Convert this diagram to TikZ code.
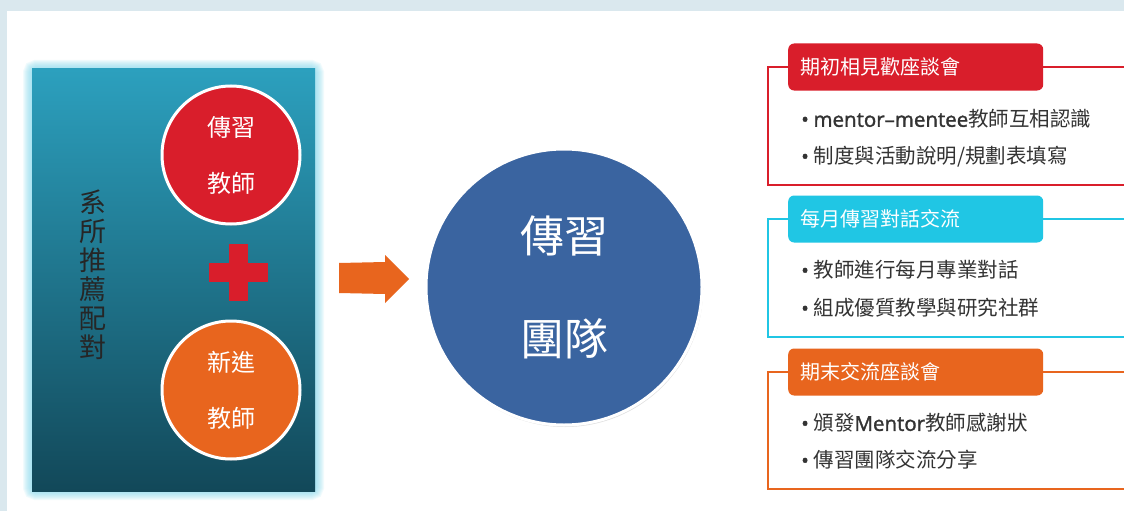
\documentclass[tikz,border=0pt]{standalone}
\usepackage{fontspec}
\setmainfont{Noto Sans CJK TC}
\newfontfamily\latin{Open Sans}[FakeBold=1.5]
\usetikzlibrary{shadows}
\definecolor{rimgray}{HTML}{DAE8EE}
\definecolor{paneltop}{HTML}{2CA0BE}
\definecolor{panelbottom}{HTML}{124859}
\definecolor{glow}{HTML}{7FD8EE}
\definecolor{mred}{HTML}{D91E2B}
\definecolor{morange}{HTML}{E8651E}
\definecolor{mblue}{HTML}{3A64A0}
\definecolor{mcyan}{HTML}{20C6E4}
\begin{document}
\begin{tikzpicture}[x=1pt,y=-1pt,
  disc/.style={circle,draw=white,line width=3pt,minimum size=138pt,inner sep=0pt,text=white,align=center,
    font=\fontsize{24}{56}\selectfont,drop shadow={opacity=.25,shadow xshift=1pt,shadow yshift=-2pt}},
  title/.style={rounded corners=6pt,minimum width=255pt,minimum height=47pt,inner xsep=12pt,
    text width=231pt,align=left,anchor=west,text=white,font=\fontsize{20}{24}\selectfont},
  item/.style={anchor=west,inner sep=0pt,text=black!80,font=\fontsize{20.5}{24}\selectfont}]
\useasboundingbox (0,0) rectangle (1124,511);
\fill[rimgray] (0,0) rectangle (1124,511);
\fill[white] (7,11) rectangle (1124,511);
% glow round the panel
\foreach \w in {18,16,...,2}
  \draw[glow,opacity=.1,line width=\w pt,rounded corners=4pt] (32,69) rectangle (315,491);
\node[minimum width=283pt,minimum height=422pt,inner sep=0pt,top color=paneltop,bottom color=panelbottom] (pair) at (173.5,280) {};
\node[font=\fontsize{27}{29}\selectfont,align=center,text=black!85] (vert) at (93,275) {系\\所\\推\\薦\\配\\對};
\node[disc,fill=mred] (mentor) at (231,155) {傳習\\教師};
\node[disc,fill=morange] (mentee) at (231,390) {新進\\教師};
\fill[mred] (229,244) rectangle (248,301);
\fill[mred] (209,263) rectangle (268,282);
\fill[morange] (339,263) -- (385,262) -- (385,255) -- (409,279) -- (385,303) -- (385,294) -- (339,293) -- cycle;
\node[disc,fill=mblue,minimum size=276pt,font=\fontsize{44}{103}\selectfont] (team) at (564,287) {傳習\\團隊};
% first box
\draw[mred,line width=2pt] (768,67) rectangle (1140,185);
\node[title,fill=mred] (t1) at (788,67) {期初相見歡座談會};
\node[item] (b11) at (801,119) {{\latin •} {\latin mentor–mentee}教師互相認識};
\node[item] (b12) at (801,157) {{\latin •} 制度與活動說明/規劃表填寫};
% second box
\draw[mcyan,line width=2pt] (768,219) rectangle (1140,337);
\node[title,fill=mcyan] (t2) at (788,219) {每月傳習對話交流};
\node[item] (b21) at (801,270) {{\latin •} 教師進行每月專業對話};
\node[item] (b22) at (801,308) {{\latin •} 組成優質教學與研究社群};
% third box
\draw[morange,line width=2pt] (768,372) rectangle (1140,489);
\node[title,fill=morange] (t3) at (788,372) {期末交流座談會};
\node[item] (b31) at (801,423) {{\latin •} 頒發{\latin Mentor}教師感謝狀};
\node[item] (b32) at (801,460) {{\latin •} 傳習團隊交流分享};
\end{tikzpicture}
\end{document}
